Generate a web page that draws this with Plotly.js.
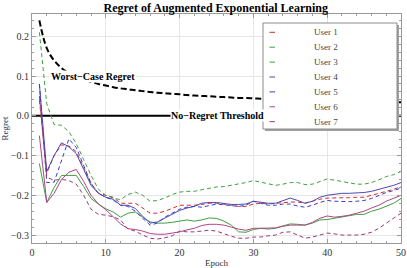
<!DOCTYPE html>
<html>
<head>
<meta charset="utf-8">
<script src="https://cdn.plot.ly/plotly-3.0.1.min.js"></script>
<style>html,body{margin:0;padding:0;background:#fff;}#chart{width:407px;height:268px;}</style>
</head>
<body>
<div id="chart"></div>
<script>
const epochs = Array.from({length: 50}, (_, i) => i + 1);

const userNames = ["User 1", "User 2", "User 3", "User 4", "User 5", "User 6", "User 7"];

const user1 = [0.04, -0.145, -0.1, -0.073, -0.076, -0.09, -0.13, -0.17, -0.195, -0.2,
  -0.205, -0.22, -0.22, -0.22, -0.232, -0.245, -0.245, -0.24, -0.233, -0.225,
  -0.225, -0.225, -0.223, -0.22, -0.22, -0.222, -0.225, -0.228, -0.228, -0.222,
  -0.22, -0.222, -0.22, -0.218, -0.217, -0.217, -0.22, -0.215, -0.21, -0.207,
  -0.207, -0.207, -0.206, -0.205, -0.205, -0.2, -0.195, -0.19, -0.185, -0.178];

const user2 = [-0.12, -0.218, -0.18, -0.15, -0.15, -0.15, -0.178, -0.208, -0.222, -0.234,
  -0.242, -0.255, -0.245, -0.242, -0.255, -0.267, -0.27, -0.27, -0.268, -0.265,
  -0.262, -0.265, -0.262, -0.257, -0.258, -0.265, -0.275, -0.292, -0.293, -0.286,
  -0.283, -0.285, -0.283, -0.277, -0.272, -0.273, -0.275, -0.27, -0.262, -0.261,
  -0.258, -0.255, -0.252, -0.248, -0.248, -0.24, -0.235, -0.228, -0.22, -0.208];

const user3 = [0.21, 0.03, -0.022, -0.024, -0.04, -0.07, -0.11, -0.15, -0.185, -0.2,
  -0.207, -0.211, -0.198, -0.192, -0.2, -0.215, -0.213, -0.207, -0.198, -0.192,
  -0.19, -0.19, -0.186, -0.182, -0.179, -0.178, -0.175, -0.172, -0.168, -0.163,
  -0.167, -0.172, -0.175, -0.172, -0.168, -0.168, -0.173, -0.172, -0.165, -0.159,
  -0.162, -0.165, -0.168, -0.172, -0.172, -0.168, -0.161, -0.153, -0.148, -0.14];

const user4 = [0.08, -0.14, -0.1, -0.068, -0.078, -0.095, -0.135, -0.175, -0.195, -0.205,
  -0.21, -0.225, -0.225, -0.233, -0.253, -0.27, -0.267, -0.257, -0.247, -0.238,
  -0.232, -0.228, -0.22, -0.218, -0.218, -0.22, -0.223, -0.223, -0.222, -0.215,
  -0.218, -0.22, -0.22, -0.213, -0.207, -0.213, -0.22, -0.215, -0.205, -0.2,
  -0.197, -0.195, -0.195, -0.194, -0.193, -0.19, -0.185, -0.18, -0.175, -0.168];

const user5 = [0.08, -0.168, -0.167, -0.11, -0.058, -0.08, -0.125, -0.17, -0.195, -0.205,
  -0.212, -0.225, -0.228, -0.24, -0.258, -0.275, -0.27, -0.255, -0.245, -0.235,
  -0.23, -0.228, -0.23, -0.226, -0.222, -0.224, -0.226, -0.228, -0.225, -0.215,
  -0.22, -0.225, -0.225, -0.222, -0.222, -0.227, -0.23, -0.225, -0.218, -0.213,
  -0.215, -0.216, -0.216, -0.215, -0.213, -0.208, -0.2, -0.193, -0.188, -0.182];

const user6 = [-0.05, -0.218, -0.195, -0.16, -0.142, -0.135, -0.165, -0.2, -0.222, -0.236,
  -0.254, -0.272, -0.284, -0.286, -0.29, -0.296, -0.298, -0.298, -0.295, -0.292,
  -0.287, -0.283, -0.276, -0.273, -0.273, -0.275, -0.28, -0.285, -0.288, -0.283,
  -0.283, -0.283, -0.282, -0.278, -0.275, -0.275, -0.275, -0.268, -0.258, -0.252,
  -0.255, -0.253, -0.25, -0.245, -0.24, -0.232, -0.225, -0.215, -0.208, -0.2];

const user7 = [0.05, -0.155, -0.162, -0.16, -0.163, -0.172, -0.2, -0.235, -0.248, -0.25,
  -0.254, -0.262, -0.285, -0.29, -0.3, -0.308, -0.31, -0.307, -0.302, -0.29,
  -0.292, -0.292, -0.29, -0.288, -0.29, -0.297, -0.303, -0.308, -0.308, -0.305,
  -0.305, -0.302, -0.3, -0.293, -0.292, -0.3, -0.308, -0.305, -0.3, -0.295,
  -0.297, -0.3, -0.3, -0.3, -0.298, -0.293, -0.283, -0.27, -0.258, -0.245];

const worstCase = [0.24, 0.17, 0.139, 0.12, 0.107, 0.098, 0.091, 0.085, 0.08, 0.076,
  0.072, 0.069, 0.067, 0.064, 0.062, 0.06, 0.058, 0.057, 0.055, 0.054,
  0.052, 0.051, 0.05, 0.049, 0.048, 0.047, 0.046, 0.045, 0.045, 0.044,
  0.043, 0.042, 0.042, 0.041, 0.041, 0.04, 0.039, 0.039, 0.038, 0.038,
  0.037, 0.037, 0.037, 0.036, 0.036, 0.035, 0.035, 0.035, 0.034, 0.034];

const thresholdX = [0, 50];
const thresholdY = [0, 0];

const userSeries = [user1, user2, user3, user4, user5, user6, user7];
const userColors = ["#d42a2a", "#3f9f3f", "#3f9f3f", "#4a4ab0", "#3c3cc8", "#b0448c", "#9a3a78"];
const userDash = ["4px,3px", "solid", "4px,3px", "solid", "4px,3px", "solid", "4px,3px"];

const SERIF = "Liberation Serif, Times New Roman, serif";

// plot-area geometry (pixels) used to place the legend box in paper coordinates
const W = 407, H = 268;
const M = {l: 32, r: 6, t: 14, b: 25};
const PW = W - M.l - M.r, PH = H - M.t - M.b;
const px2x = px => (px - M.l) / PW;
const py2y = py => (H - M.b - py) / PH;

const traces = [];
traces.push({
  x: thresholdX, y: thresholdY, mode: "lines", showlegend: false, hoverinfo: "skip",
  line: {color: "#000", width: 2}
});
traces.push({
  x: epochs, y: worstCase, mode: "lines", showlegend: false, hoverinfo: "skip",
  line: {color: "#000", width: 2, dash: "6px,3px", shape: "spline"}
});
userSeries.forEach((s, i) => {
  traces.push({
    x: epochs, y: s, mode: "lines", name: userNames[i], showlegend: false,
    line: {color: userColors[i], width: 1, dash: userDash[i]}
  });
});

// legend drawn as a framed box with swatches and labels
const shapes = [];
const annotations = [];
const box = {x0: 263, x1: 397, y0: 23, y1: 129};
shapes.push({type: "rect", xref: "paper", yref: "paper", layer: "above",
  x0: px2x(box.x0 + 2), x1: px2x(box.x1 + 2), y0: py2y(box.y1 + 2), y1: py2y(box.y0 + 2),
  fillcolor: "#a0a0a0", line: {width: 0}});
shapes.push({type: "rect", xref: "paper", yref: "paper", layer: "above",
  x0: px2x(box.x0), x1: px2x(box.x1), y0: py2y(box.y1), y1: py2y(box.y0),
  fillcolor: "#fff", line: {color: "#8c8c8c", width: 1}});
userNames.forEach((name, i) => {
  const py = 32.3 + 14.9 * i;
  shapes.push({type: "line", xref: "paper", yref: "paper", layer: "above",
    x0: px2x(269.5), x1: px2x(275), y0: py2y(py), y1: py2y(py),
    line: {color: userColors[i], width: 1}});
  annotations.push({xref: "paper", yref: "paper", x: px2x(326), y: py2y(py),
    xanchor: "center", yanchor: "middle", text: name, showarrow: false,
    font: {family: SERIF, size: 9, color: "#444"}});
});

annotations.push({x: 8.3, y: 0.1, xref: "x", yref: "y", text: "<b>Worst\u2212Case Regret</b>", showarrow: false,
  font: {family: SERIF, size: 10, color: "#000"}, bgcolor: "#fff", borderpad: 0});
annotations.push({x: 25.1, y: 0, xref: "x", yref: "y", text: "<b>No\u2212Regret Threshold</b>", showarrow: false,
  font: {family: SERIF, size: 10, color: "#000"}, bgcolor: "#fff", borderpad: 0});

const axisCommon = {
  showline: true, mirror: "allticks", linecolor: "#9a9a9a", linewidth: 1,
  ticks: "inside", ticklen: 4, tickcolor: "#9a9a9a", tickwidth: 1,
  showgrid: true, gridcolor: "#e6e6e6", gridwidth: 1, zeroline: false,
  tickfont: {family: SERIF, size: 10, color: "#333"}
};

const layout = {
  width: W, height: H,
  margin: M,
  paper_bgcolor: "#fff", plot_bgcolor: "#fff",
  showlegend: false,
  title: {text: "<b>Regret of Augmented Exponential Learning</b>", x: 0.53, xanchor: "center", y: 0.985, yanchor: "top",
    font: {family: SERIF, size: 12, color: "#000"}},
  xaxis: Object.assign({}, axisCommon, {
    range: [0, 50], tickvals: [0, 10, 20, 30, 40, 50], ticktext: ["0", "10", "20", "30", "40", "50"],
    minor: {dtick: 2, tick0: 0, ticks: "inside", ticklen: 2, tickcolor: "#9a9a9a", showgrid: false},
    title: {text: "Epoch", font: {family: SERIF, size: 9, color: "#333"}, standoff: 3}
  }),
  yaxis: Object.assign({}, axisCommon, {
    range: [-0.32, 0.256], tickvals: [-0.3, -0.2, -0.1, 0, 0.1, 0.2],
    ticktext: ["\u22120.3", "\u22120.2", "\u22120.1", "0.0", "0.1", "0.2"],
    minor: {dtick: 0.02, tick0: 0, ticks: "inside", ticklen: 2, tickcolor: "#9a9a9a", showgrid: false},
    title: {text: "Regret", font: {family: SERIF, size: 9, color: "#333"}, standoff: 2}
  }),
  shapes: shapes,
  annotations: annotations
};

Plotly.newPlot("chart", traces, layout, {displayModeBar: false, staticPlot: true});
</script>
</body>
</html>
